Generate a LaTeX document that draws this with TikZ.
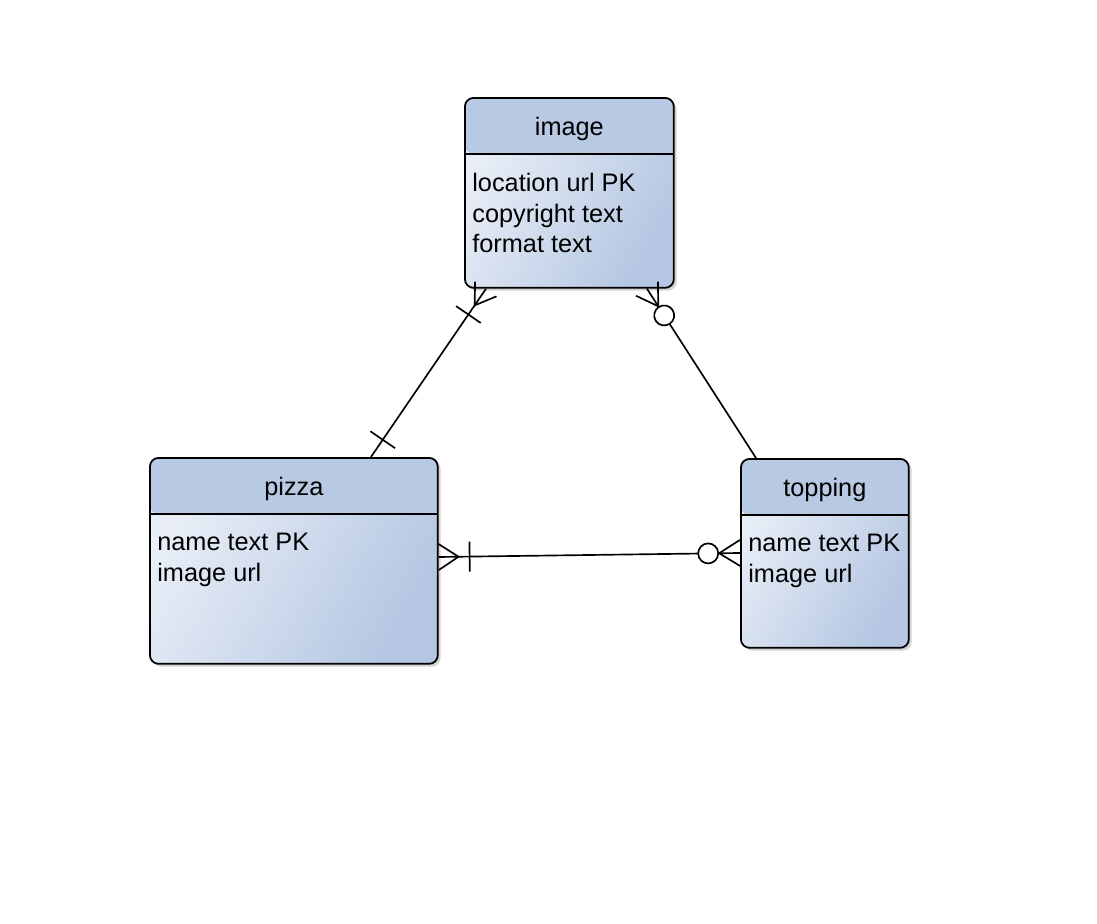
\documentclass[tikz,border=0pt]{standalone}
\usepackage{fontspec}
\setmainfont{Liberation Sans}
\usetikzlibrary{shadows,decorations.markings}
\definecolor{erhead}{RGB}{184,201,227}
\definecolor{erlight}{RGB}{234,239,247}
\definecolor{erdark}{RGB}{180,198,226}

\begin{document}
\begin{tikzpicture}[
  x=0.02cm, y=-0.02cm,
  every node/.style={font=\fontsize{14.4}{17.3}\selectfont},
  entity/.style={draw,line width=1pt,rounded corners=5pt,anchor=north west,inner sep=0pt,
    left color=erlight,right color=erdark,shading angle=60,
    drop shadow={shadow xshift=1.6pt,shadow yshift=-1.6pt,opacity=0.35},
    path picture={
      \fill[erhead] (path picture bounding box.north west) rectangle ([yshift=-1.12cm]path picture bounding box.north east);
      \draw[line width=1pt] ([yshift=-1.12cm]path picture bounding box.north west) -- ([yshift=-1.12cm]path picture bounding box.north east);}},
  fields/.style={anchor=north west,align=left,inner sep=0pt},
  rel/.style={line width=0.95pt},
  onestart/.style={postaction={decorate,decoration={markings,mark=at position 0 with {
    \draw[rel] (11.9pt,-8.5pt) -- (11.9pt,8.5pt);}}}},
  manyonestart/.style={postaction={decorate,decoration={markings,mark=at position 0 with {
    \draw[rel] (0,-7.4pt) -- (11.3pt,0) -- (0,7.4pt) (17.6pt,-8.5pt) -- (17.6pt,8.5pt);}}}},
  manyoneend/.style={postaction={decorate,decoration={markings,mark=at position 1 with {
    \draw[rel] (0,-7.4pt) -- (-11.3pt,0) -- (0,7.4pt) (-17.6pt,-8.5pt) -- (-17.6pt,8.5pt);}}}},
  manyzerostart/.style={postaction={decorate,decoration={markings,mark=at position 0 with {
    \draw[rel] (0,-7.4pt) -- (11.9pt,0) -- (0,7.4pt);
    \draw[rel,fill=white] (18.1pt,0) circle (5.7pt);}}}},
  manyzeroend/.style={postaction={decorate,decoration={markings,mark=at position 1 with {
    \draw[rel] (0,-7.4pt) -- (-11.9pt,0) -- (0,7.4pt);
    \draw[rel,fill=white] (-18.1pt,0) circle (5.7pt);}}}}
]
\useasboundingbox (0,0) rectangle (1097,923);

% entities
\node[entity,minimum width=4.18cm,minimum height=3.8cm] (image) at (464,97) {};
\node (image-title) at ([yshift=-0.64cm]image.north) {image};
\node[fields] (image-fields) at ([xshift=0.16cm,yshift=-1.52cm]image.north west)
  {location url PK\\copyright text\\format text};

\node[entity,minimum width=5.76cm,minimum height=4.12cm] (pizza) at (149,457) {};
\node (pizza-title) at ([yshift=-0.64cm]pizza.north) {pizza};
\node[fields] (pizza-fields) at ([xshift=0.16cm,yshift=-1.52cm]pizza.north west)
  {name text PK\\image url};

\node[entity,minimum width=3.36cm,minimum height=3.78cm] (topping) at (740,458) {};
\node (topping-title) at ([yshift=-0.64cm]topping.north) {topping};
\node[fields] (topping-fields) at ([xshift=0.16cm,yshift=-1.52cm]topping.north west)
  {name text PK\\image url};

% relations
\draw[rel,onestart,manyoneend] ([xshift=4.44cm]pizza.north west) -- ([xshift=0.44cm]image.south west);
\draw[rel,manyzerostart] ([xshift=3.66cm]image.south west) -- ([xshift=0.32cm]topping.north west);
\draw[rel,manyonestart,manyzeroend] ([yshift=-2cm]pizza.north east) -- ([yshift=-1.9cm]topping.north west);
\end{tikzpicture}
\end{document}
